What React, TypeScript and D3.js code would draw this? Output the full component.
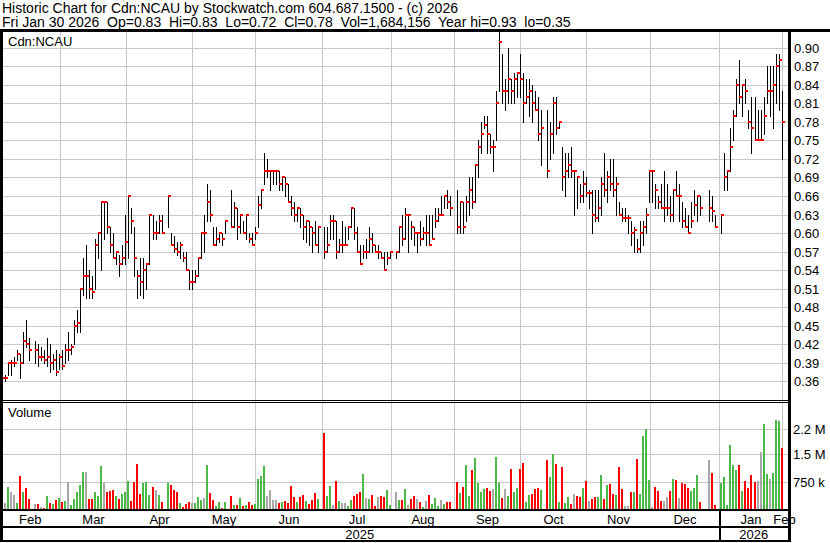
import React from 'react';
import * as d3 from 'd3';

// ---------- data ----------
const FIRST_DAY = new Date(2025, 1, 3);
const LAST_DAY = new Date(2026, 0, 30);
const HOLIDAYS = ['2025-02-17', '2025-04-18', '2025-05-19', '2025-07-01', '2025-08-04', '2025-09-01', '2025-10-13', '2025-12-25', '2025-12-26', '2026-01-01'];

const PRICE_TICKS = [0.36, 0.39, 0.42, 0.45, 0.48, 0.51, 0.54, 0.57, 0.6, 0.63, 0.66, 0.69, 0.72, 0.75, 0.78, 0.81, 0.84, 0.87, 0.9];
const VOLUME_TICKS = [0.75, 1.5, 2.2]; // millions
const VOLUME_TICK_LABELS = ['750 k', '1.5 M', '2.2 M'];
const MONTH_LABELS = ['Feb', 'Mar', 'Apr', 'May', 'Jun', 'Jul', 'Aug', 'Sep', 'Oct', 'Nov', 'Dec', 'Jan', 'Feb'];
const YEAR_LABELS = ['2025', '2026'];

const HEADER_1 = 'Historic Chart for Cdn:NCAU by Stockwatch.com 604.687.1500 - (c) 2026';
const HEADER_2 = 'Fri Jan 30 2026  Op=0.83  Hi=0.83  Lo=0.72  Cl=0.78  Vol=1,684,156  Year hi=0.93  lo=0.35';
const SYMBOL = 'Cdn:NCAU';

// one line per month (Feb 2025 ... Jan 2026)
const highs = [
  0.37, 0.37, 0.39, 0.395, 0.40, 0.41, 0.405, 0.44, 0.46, 0.43, 0.425, 0.42, 0.415, 0.41, 0.43, 0.42, 0.405, 0.41, 0.405,
  0.41, 0.42, 0.44, 0.42, 0.46, 0.475, 0.51, 0.56, 0.58, 0.54, 0.53, 0.59, 0.60, 0.65, 0.65, 0.65, 0.61, 0.60, 0.57, 0.565, 0.58,
  0.63, 0.66, 0.64, 0.61, 0.54, 0.56, 0.56, 0.55, 0.63, 0.63, 0.62, 0.63, 0.63, 0.66, 0.60, 0.595, 0.585, 0.585, 0.57, 0.57, 0.54,
  0.54, 0.54, 0.56, 0.60, 0.63, 0.68, 0.67, 0.61, 0.61, 0.60, 0.60, 0.62, 0.67, 0.65, 0.64, 0.63, 0.62, 0.63, 0.60, 0.60, 0.61,
  0.66, 0.67, 0.73, 0.72, 0.70, 0.70, 0.70, 0.70, 0.69, 0.69, 0.68, 0.66, 0.65, 0.64, 0.64, 0.63, 0.62, 0.62, 0.61, 0.62, 0.61,
  0.61, 0.61, 0.63, 0.63, 0.62, 0.59, 0.62, 0.61, 0.61, 0.64, 0.64, 0.61, 0.58, 0.58, 0.59, 0.61, 0.60, 0.58, 0.58, 0.57, 0.57, 0.57,
  0.57, 0.57, 0.61, 0.63, 0.64, 0.63, 0.62, 0.61, 0.60, 0.62, 0.61, 0.63, 0.63, 0.63, 0.64, 0.64, 0.66, 0.66, 0.67, 0.66,
  0.67, 0.65, 0.65, 0.66, 0.69, 0.69, 0.71, 0.75, 0.78, 0.79, 0.79, 0.76, 0.75, 0.83, 0.93, 0.89, 0.85, 0.90, 0.85, 0.86, 0.86,
  0.89, 0.86, 0.85, 0.85, 0.84, 0.83, 0.82, 0.80, 0.80, 0.78, 0.82, 0.82, 0.78, 0.74, 0.73, 0.73, 0.74, 0.70, 0.69, 0.68, 0.70, 0.69,
  0.67, 0.67, 0.67, 0.67, 0.69, 0.73, 0.70, 0.72, 0.72, 0.69, 0.65, 0.64, 0.64, 0.63, 0.62, 0.61, 0.59, 0.62, 0.62, 0.64,
  0.70, 0.70, 0.68, 0.66, 0.68, 0.70, 0.68, 0.66, 0.67, 0.70, 0.68, 0.65, 0.64, 0.63, 0.65, 0.67, 0.66, 0.66, 0.67, 0.66, 0.63,
  0.63, 0.73, 0.70, 0.77, 0.80, 0.85, 0.88, 0.84, 0.85, 0.80, 0.82, 0.82, 0.80, 0.80, 0.82, 0.87, 0.87, 0.87, 0.89, 0.89, 0.83,
];
const lows = [
  0.35, 0.36, 0.37, 0.37, 0.385, 0.395, 0.365, 0.39, 0.415, 0.395, 0.39, 0.385, 0.395, 0.39, 0.385, 0.375, 0.38, 0.37, 0.38,
  0.38, 0.39, 0.395, 0.405, 0.42, 0.44, 0.44, 0.50, 0.495, 0.495, 0.495, 0.51, 0.56, 0.54, 0.59, 0.60, 0.57, 0.56, 0.55, 0.53, 0.55,
  0.55, 0.56, 0.60, 0.53, 0.495, 0.50, 0.495, 0.51, 0.55, 0.59, 0.59, 0.60, 0.60, 0.61, 0.58, 0.57, 0.565, 0.56, 0.555, 0.54, 0.51,
  0.51, 0.52, 0.53, 0.56, 0.57, 0.62, 0.62, 0.58, 0.58, 0.585, 0.58, 0.60, 0.61, 0.61, 0.59, 0.60, 0.60, 0.59, 0.585, 0.58, 0.59,
  0.61, 0.64, 0.68, 0.69, 0.67, 0.68, 0.68, 0.67, 0.67, 0.66, 0.65, 0.63, 0.62, 0.62, 0.61, 0.59, 0.585, 0.58, 0.57, 0.58, 0.57,
  0.56, 0.57, 0.59, 0.59, 0.56, 0.57, 0.57, 0.58, 0.59, 0.61, 0.59, 0.57, 0.55, 0.56, 0.56, 0.57, 0.57, 0.57, 0.56, 0.56, 0.54, 0.55,
  0.56, 0.56, 0.57, 0.58, 0.59, 0.57, 0.59, 0.58, 0.57, 0.58, 0.59, 0.58, 0.58, 0.59, 0.61, 0.62, 0.63, 0.64, 0.64, 0.63,
  0.60, 0.60, 0.60, 0.62, 0.63, 0.64, 0.65, 0.69, 0.73, 0.77, 0.73, 0.73, 0.70, 0.75, 0.83, 0.81, 0.80, 0.81, 0.81, 0.81, 0.82,
  0.82, 0.78, 0.81, 0.79, 0.78, 0.80, 0.75, 0.71, 0.69, 0.72, 0.73, 0.76, 0.77, 0.67, 0.66, 0.69, 0.69, 0.63, 0.64, 0.65, 0.65, 0.66,
  0.64, 0.60, 0.62, 0.62, 0.63, 0.66, 0.65, 0.67, 0.66, 0.63, 0.63, 0.62, 0.62, 0.60, 0.58, 0.57, 0.57, 0.57, 0.58, 0.60,
  0.65, 0.65, 0.64, 0.64, 0.64, 0.62, 0.63, 0.62, 0.62, 0.66, 0.62, 0.61, 0.61, 0.60, 0.61, 0.63, 0.62, 0.63, 0.62, 0.62, 0.61,
  0.60, 0.67, 0.67, 0.70, 0.75, 0.79, 0.81, 0.79, 0.81, 0.77, 0.73, 0.75, 0.75, 0.75, 0.76, 0.81, 0.79, 0.77, 0.81, 0.80, 0.72,
];
const closes = [
  0.365, 0.365, 0.39, 0.39, 0.39, 0.405, 0.39, 0.425, 0.42, 0.41, 0.41, 0.40, 0.40, 0.395, 0.40, 0.39, 0.395, 0.375, 0.40,
  0.385, 0.41, 0.41, 0.415, 0.45, 0.455, 0.51, 0.53, 0.53, 0.51, 0.505, 0.58, 0.60, 0.65, 0.65, 0.61, 0.58, 0.56, 0.57, 0.55, 0.56,
  0.585, 0.66, 0.62, 0.56, 0.53, 0.52, 0.54, 0.55, 0.63, 0.60, 0.60, 0.62, 0.60, 0.66, 0.58, 0.575, 0.57, 0.58, 0.56, 0.54, 0.52,
  0.52, 0.53, 0.56, 0.60, 0.60, 0.65, 0.63, 0.58, 0.59, 0.60, 0.59, 0.62, 0.61, 0.64, 0.61, 0.63, 0.60, 0.63, 0.59, 0.58, 0.60,
  0.645, 0.67, 0.70, 0.70, 0.70, 0.70, 0.70, 0.68, 0.69, 0.68, 0.65, 0.64, 0.63, 0.64, 0.63, 0.61, 0.62, 0.61, 0.60, 0.58, 0.61,
  0.57, 0.58, 0.62, 0.62, 0.57, 0.58, 0.58, 0.58, 0.61, 0.64, 0.60, 0.57, 0.55, 0.57, 0.57, 0.59, 0.58, 0.57, 0.57, 0.56, 0.54, 0.56,
  0.57, 0.57, 0.61, 0.59, 0.63, 0.63, 0.61, 0.60, 0.60, 0.59, 0.60, 0.60, 0.58, 0.59, 0.62, 0.63, 0.63, 0.66, 0.65, 0.64,
  0.61, 0.65, 0.61, 0.65, 0.67, 0.65, 0.71, 0.74, 0.76, 0.775, 0.76, 0.74, 0.74, 0.81, 0.91, 0.83, 0.83, 0.85, 0.83, 0.85, 0.86,
  0.85, 0.81, 0.82, 0.83, 0.81, 0.80, 0.76, 0.77, 0.70, 0.76, 0.81, 0.77, 0.78, 0.69, 0.70, 0.71, 0.70, 0.70, 0.69, 0.66, 0.68, 0.665,
  0.665, 0.63, 0.625, 0.64, 0.68, 0.67, 0.69, 0.68, 0.67, 0.68, 0.63, 0.625, 0.625, 0.625, 0.60, 0.605, 0.575, 0.60, 0.61, 0.63,
  0.70, 0.70, 0.67, 0.65, 0.64, 0.64, 0.64, 0.63, 0.67, 0.66, 0.66, 0.62, 0.61, 0.60, 0.62, 0.645, 0.66, 0.64, 0.64, 0.635, 0.61,
  0.63, 0.69, 0.70, 0.74, 0.79, 0.84, 0.82, 0.84, 0.83, 0.78, 0.77, 0.75, 0.75, 0.75, 0.79, 0.83, 0.83, 0.84, 0.87, 0.88, 0.78,
];
// volume in millions of shares
const volumes = [
  0.20, 0.17, 0.60, 0.47, 0.39, 0.17, 0.91, 0.46, 0.57, 0.27, 0.14, 0.14, 0.06, 0.03, 0.36, 0.17, 0.14, 0.25, 0.30,
  0.20, 0.22, 0.74, 0.11, 0.28, 0.46, 0.65, 1.01, 1.01, 0.28, 0.28, 0.46, 0.36, 1.17, 0.71, 0.46, 0.49, 0.52, 0.36, 0.28, 0.41,
  0.46, 0.76, 0.22, 0.74, 1.23, 0.40, 0.71, 0.73, 0.38, 0.60, 0.52, 0.38, 0.19, 0.71, 0.66, 0.52, 0.46, 0.17, 0.06, 0.14, 0.19,
  0.17, 0.17, 0.33, 0.25, 0.30, 1.20, 0.44, 0.25, 0.08, 0.19, 0.03, 0.19, 0.36, 0.11, 0.11, 0.30, 0.08, 0.11, 0.19, 0.11, 0.14,
  0.82, 0.90, 1.17, 0.36, 0.52, 0.25, 0.25, 0.16, 0.19, 0.22, 0.17, 0.63, 0.33, 0.19, 0.33, 0.39, 0.22, 0.14, 0.25, 0.44, 0.28,
  2.07, 0.36, 0.64, 0.11, 0.77, 0.22, 0.17, 0.17, 0.08, 0.25, 0.36, 0.41, 0.46, 0.96, 0.30, 0.28, 0.39, 0.08, 0.33, 0.36, 0.33, 0.52,
  0.10, 0.46, 0.25, 0.25, 0.55, 0.11, 0.28, 0.36, 0.28, 0.20, 0.06, 0.22, 0.39, 0.14, 0.30, 0.08, 0.25, 0.14, 0.20, 0.20,
  0.74, 0.44, 0.60, 1.20, 0.36, 1.07, 1.39, 0.71, 0.46, 0.55, 0.57, 0.49, 0.55, 1.42, 0.71, 0.30, 0.55, 0.36, 1.09, 0.46, 0.57,
  1.09, 1.26, 0.20, 0.39, 0.41, 0.55, 0.57, 0.52, 1.34, 0.87, 1.50, 1.23, 0.20, 1.15, 0.17, 0.33, 0.14, 0.41, 0.36, 0.33, 0.57, 0.77,
  0.22, 0.28, 0.33, 0.33, 0.93, 0.28, 0.66, 0.68, 0.41, 0.39, 1.15, 0.55, 0.08, 0.08, 0.46, 0.46, 1.37, 0.41, 1.99, 2.19,
  0.79, 0.06, 0.60, 0.49, 0.22, 0.22, 0.33, 0.49, 0.82, 0.79, 0.31, 0.71, 0.68, 0.57, 0.49, 0.57, 0.93, 0.20, 1.34, 0.98, 0.11,
  0.71, 0.87, 0.11, 1.75, 1.20, 1.07, 1.20, 0.49, 0.77, 0.57, 0.93, 0.74, 0.77, 1.56, 2.32, 0.96, 0.82, 0.98, 2.43, 2.40, 1.68,
];

// ---------- layout ----------
const W = 830;
const H = 543;
const LEFT = 2;
const RIGHT = 788;
const PRICE_TOP = 32;
const PRICE_BOTTOM = 399;
const VOL_BOTTOM = 509;
const FONT = "Arial, 'Liberation Sans', sans-serif";
const GRID = '#c8c8c8';
const UP = '#4cb848';
const DOWN = '#ff0000';
const FLAT = '#a8a8a8';

const fmt = d3.timeFormat('%Y-%m-%d');

export default function App() {
  // weekday slots (holidays keep their slot, but have no bar)
  const weekdays = d3.timeDay
    .range(FIRST_DAY, d3.timeDay.offset(LAST_DAY, 1))
    .filter((d) => d.getDay() !== 0 && d.getDay() !== 6);
  const slots = weekdays.map((date, slot) => ({ date, slot }));
  const trading = slots.filter((s) => !HOLIDAYS.includes(fmt(s.date)));
  const bars = trading
    .map((s, i) => ({
      slot: s.slot,
      date: s.date,
      high: highs[i],
      low: lows[i],
      close: closes[i],
      volume: volumes[i],
      prev: i > 0 ? closes[i - 1] : closes[i],
    }))
    .filter((b) => b.high !== undefined);

  const x = d3.scaleLinear().domain([0, slots.length - 1]).range([2, 781.6]);
  const yP = d3.scaleLinear().domain([0.36, 0.9]).range([381.3, 47.8]);
  const yV = d3.scaleLinear().domain([0, 2.9]).range([VOL_BOTTOM, VOL_BOTTOM - 2.9 * 36.55]);

  const slotOnOrBefore = (date: Date) => {
    let s = 0;
    for (const w of slots) if (w.date <= date) s = w.slot;
    return s;
  };
  const monthStarts = d3.timeMonth.range(new Date(2025, 2, 1), new Date(2026, 1, 2));
  const gridXs = monthStarts.map((d) => Math.round(x(slotOnOrBefore(d)) + 0.5) + 0.5);

  const monthCenters = MONTH_LABELS.map((_, i) => {
    if (i === 0) return (0 + gridXs[0]) / 2;
    if (i === MONTH_LABELS.length - 1) return gridXs[i - 1] + 2;
    return (gridXs[i - 1] + gridXs[i]) / 2;
  });
  const janGrid = gridXs[monthStarts.findIndex((d) => d.getFullYear() === 2026)];
  const yearCenters = [(0 + janGrid) / 2, (janGrid + RIGHT) / 2];

  const volColor = (b: any) => (b.close > b.prev ? UP : b.close < b.prev ? DOWN : FLAT);

  return (
    <svg
      width={W}
      height={H}
      style={{ position: 'absolute', left: 0, top: 0, background: '#fff' }}
      fontFamily={FONT}
      fontSize={13}
    >
      <rect x={0} y={0} width={W} height={H} fill="#fff" />
      <defs>
        <clipPath id="priceClip">
          <rect x={LEFT} y={PRICE_TOP} width={RIGHT - LEFT} height={PRICE_BOTTOM - PRICE_TOP} />
        </clipPath>
      </defs>

      {/* header */}
      <text x={2} y={12.5} fontSize={14} style={{ whiteSpace: 'pre' }}>{HEADER_1}</text>
      <text x={2} y={27} fontSize={14} style={{ whiteSpace: 'pre' }}>{HEADER_2}</text>

      {/* grid */}
      <g shapeRendering="crispEdges" stroke={GRID} strokeWidth={1}>
        {PRICE_TICKS.map((t) => (
          <line key={t} x1={LEFT} x2={RIGHT} y1={Math.round(yP(t)) + 0.5} y2={Math.round(yP(t)) + 0.5} />
        ))}
        {VOLUME_TICKS.map((t) => (
          <line key={'v' + t} x1={LEFT} x2={RIGHT} y1={Math.round(yV(t)) + 0.5} y2={Math.round(yV(t)) + 0.5} />
        ))}
        {gridXs.map((gx, i) => (
          <line key={'g' + i} x1={gx} x2={gx} y1={PRICE_TOP} y2={VOL_BOTTOM} />
        ))}
      </g>

      {/* price bars */}
      <g clipPath="url(#priceClip)" shapeRendering="crispEdges">
        {bars.map((b) => {
          const px = Math.round(x(b.slot));
          const top = Math.round(yP(b.high));
          const bot = Math.round(yP(b.low));
          return <rect key={'b' + b.slot} x={px} y={top} width={1} height={Math.max(1, bot - top + 1)} fill="#000" />;
        })}
        {bars.map((b) => {
          const px = Math.round(x(b.slot));
          return <rect key={'c' + b.slot} x={px} y={Math.round(yP(b.close)) - 1} width={3} height={2} fill={DOWN} />;
        })}
      </g>

      {/* volume bars */}
      <g shapeRendering="crispEdges">
        {bars.map((b) => {
          const px = Math.round(x(b.slot));
          const top = Math.round(yV(b.volume));
          return <rect key={'v' + b.slot} x={px - 1} y={top} width={2} height={VOL_BOTTOM - top} fill={volColor(b)} />;
        })}
      </g>

      {/* panel labels */}
      <text x={8} y={46}>{SYMBOL}</text>
      <text x={8} y={417}>Volume</text>

      {/* right axis labels */}
      {PRICE_TICKS.map((t) => (
        <text key={'pl' + t} x={794} y={yP(t) + 5}>{d3.format('.2f')(t)}</text>
      ))}
      {VOLUME_TICKS.map((t, i) => (
        <text key={'vl' + t} x={793} y={yV(t) + 5}>{VOLUME_TICK_LABELS[i]}</text>
      ))}

      {/* month / year labels */}
      {MONTH_LABELS.map((m, i) => (
        <text key={'m' + i} x={monthCenters[i]} y={523.5} textAnchor="middle">{m}</text>
      ))}
      {YEAR_LABELS.map((yl, i) => (
        <text key={'y' + i} x={yearCenters[i]} y={539} textAnchor="middle">{yl}</text>
      ))}

      {/* frame lines */}
      <g shapeRendering="crispEdges" fill="#000">
        <rect x={0} y={29} width={W} height={3} />
        <rect x={0} y={29} width={2.5} height={513} />
        <rect x={RIGHT} y={29} width={3} height={513} />
        <rect x={0} y={400} width={RIGHT} height={1} />
        <rect x={0} y={402} width={RIGHT} height={1} />
        <rect x={0} y={509} width={RIGHT + 3} height={2} />
        <rect x={0} y={526} width={RIGHT + 3} height={2} />
        <rect x={0} y={540} width={RIGHT + 3} height={2} />
        <rect x={janGrid - 0.5} y={511} width={1.5} height={30} />
      </g>
    </svg>
  );
}
